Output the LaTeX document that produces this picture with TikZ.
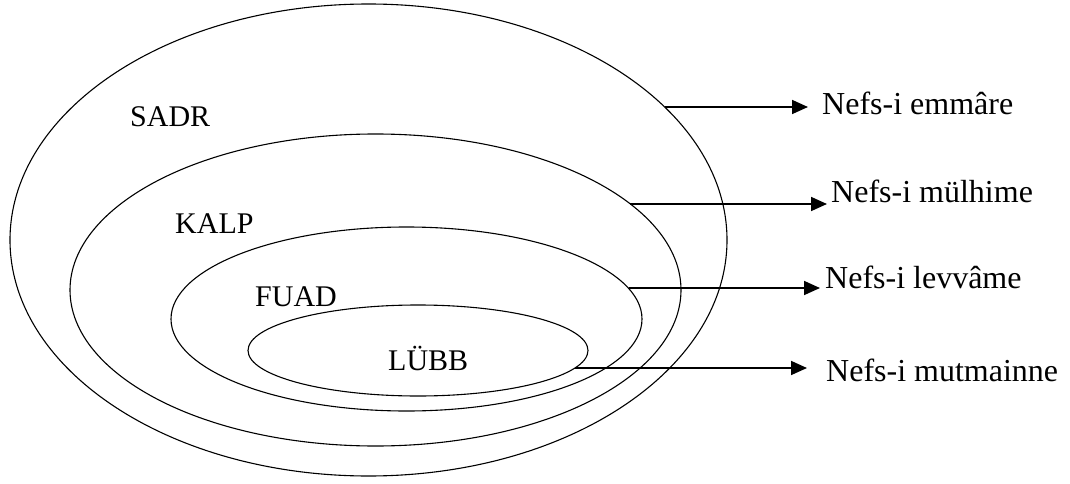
\documentclass[tikz,border=0pt]{standalone}
\usepackage{fontspec}
\setmainfont{Liberation Serif}
\usetikzlibrary{arrows.meta, shapes.geometric, positioning}

\begin{document}
\begin{tikzpicture}[x = 1pt, y = -1pt]%
    %
    \def\labelsize{\fontsize{30}{36}\selectfont}%
    \def\nefssize{\fontsize{32}{38}\selectfont}%
    %
    \tikzstyle{ring} = [ellipse, draw = black, line width = 1.1pt, inner sep = 0pt]%
    \tikzstyle{arrow} = [-{Triangle[length = 16pt, width = 14pt]}, line width = 1.7pt, draw = black]%
    \tikzstyle{stage} = [font = \labelsize, inner sep = 0pt, anchor = base west]%
    \tikzstyle{nefs} = [font = \nefssize, inner sep = 0pt, anchor = base west]%
    %
    \useasboundingbox (0, 0) rectangle (1070, 484);%
    %
    % nested ellipses, outer to inner
    \node [ring, minimum width = 717pt, minimum height = 472pt] (sadr) at (368.5, 240) {};%
    \node [ring, minimum width = 611pt, minimum height = 312pt] (kalp) at (375.5, 290) {};%
    \node [ring, minimum width = 471pt, minimum height = 184pt] (fuad) at (406.5, 319) {};%
    \node [ring, minimum width = 340pt, minimum height = 91pt] (lubb) at (418, 350.5) {};%
    %
    \node [stage] (sadrtext) at (130, 126) {SADR};%
    \node [stage] (kalptext) at (175, 233) {KALP};%
    \node [stage] (fuadtext) at (255, 306) {FUAD};%
    \node [stage] (lubbtext) at (388, 370) {LÜBB};%
    %
    % arrows start on the ellipses
    \coordinate (e1) at (664.7, 107);%
    \coordinate (e2) at (630, 204);%
    \coordinate (e3) at (628.5, 288);%
    \coordinate (e4) at (575, 368);%
    \coordinate (t1) at (808, 107);%
    \coordinate (t2) at (827, 204);%
    \coordinate (t3) at (820, 288);%
    \coordinate (t4) at (807, 368);%
    %
    \node [nefs] (emmare) at (822, 115) {Nefs-i emmâre};%
    \node [nefs] (mulhime) at (831, 202) {Nefs-i mülhime};%
    \node [nefs] (levvame) at (825, 288) {Nefs-i levvâme};%
    \node [nefs] (mutmainne) at (826, 381) {Nefs-i mutmainne};%
    %
    \draw [arrow] (e1) -- (t1);%
    \draw [arrow] (e2) -- (t2);%
    \draw [arrow] (e3) -- (t3);%
    \draw [arrow] (e4) -- (t4);%
\end{tikzpicture}
\end{document}
